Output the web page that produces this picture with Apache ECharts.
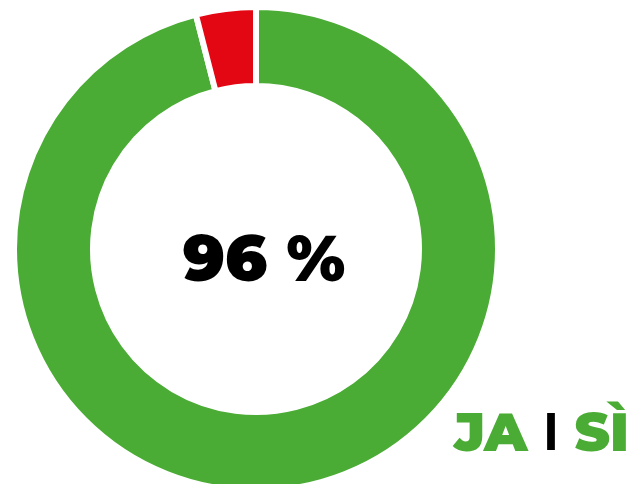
<!DOCTYPE html>
<html>
<head>
<meta charset="utf-8">
<script src="https://cdn.jsdelivr.net/npm/echarts@6/dist/echarts.min.js"></script>
<style>
html, body { margin: 0; padding: 0; background: #fff; }
#chart { width: 637px; height: 484px; }
</style>
</head>
<body>
<div id="chart"></div>
<script>
// antworten / risposte
const labels = ['JA', 'NEIN'];
const values = [96, 4];
const colors = ['#4aac34', '#e30613'];
const centerText = '96 %';

const chart = echarts.init(document.getElementById('chart'));

const option = {
    animation: false,
    title: [
        {
            text: centerText,
            left: 259,
            top: 257,
            textAlign: 'center',
            textVerticalAlign: 'middle',
            textStyle: {
                fontFamily: 'Montserrat, "Noto Sans", sans-serif',
                fontWeight: 900,
                fontSize: 64,
                color: '#000'
            }
        },
        {
            text: '{g|JA}{b|I}{g|SÌ}',
            right: 3,
            top: 403,
            textStyle: {
                rich: {
                    g: {
                        fontFamily: 'Montserrat, "Noto Sans", sans-serif',
                        fontWeight: 900,
                        fontSize: 54,
                        color: '#4aac34'
                    },
                    b: {
                        fontFamily: '"Liberation Sans", sans-serif',
                        fontWeight: 700,
                        fontSize: 54,
                        color: '#000',
                        padding: [0, 16]
                    }
                }
            }
        }
    ],
    series: [
        {
            type: 'pie',
            center: [256, 249],
            radius: [163, 242],
            startAngle: 90,
            clockwise: true,
            silent: true,
            label: { show: false },
            labelLine: { show: false },
            itemStyle: {
                borderColor: '#fff',
                borderWidth: 6
            },
            data: labels.map((name, i) => ({
                name: name,
                value: values[i],
                itemStyle: { color: colors[i] }
            }))
        }
    ]
};

chart.setOption(option);
</script>
</body>
</html>
